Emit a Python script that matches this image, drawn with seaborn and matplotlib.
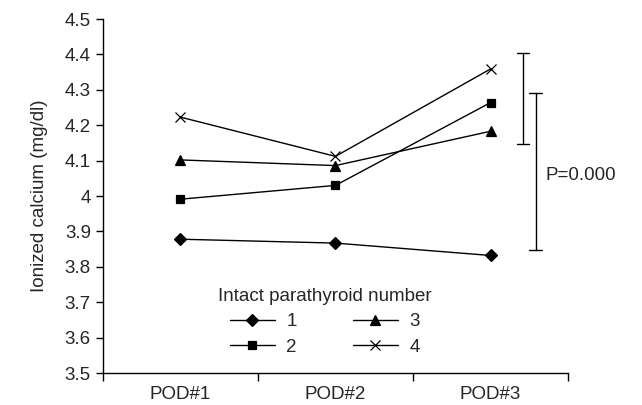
import matplotlib
matplotlib.use("Agg")
import matplotlib.pyplot as plt
import pandas as pd
import seaborn as sns

days = ["POD#1", "POD#2", "POD#3"]
groups = ["1", "2", "3", "4"]
ca_1 = [3.878, 3.867, 3.832]
ca_2 = [3.991, 4.030, 4.264]
ca_3 = [4.102, 4.086, 4.183]
ca_4 = [4.223, 4.112, 4.359]

# the two brackets on the right (low, high)
bracket_a = [4.148, 4.405]
bracket_b = [3.847, 4.290]
p_text = "P=0.000"

sns.set_style("ticks")
plt.rcParams['font.family'] = ['Liberation Sans', 'DejaVu Sans']

fig = plt.figure(figsize=(6.42, 4.05), dpi=100)
ax = fig.add_axes([0.160, 0.079, 0.725, 0.874])

markers = ["D", "s", "^", "x"]
sizes = [6.5, 6, 7, 7]
for g, vals, m, ms in zip(groups, [ca_1, ca_2, ca_3, ca_4], markers, sizes):
    d = pd.DataFrame({"day": days, "ca": vals})
    sns.lineplot(data=d, x="day", y="ca", color="black", marker=m,
                 markersize=ms, linewidth=1, markeredgecolor="black",
                 markeredgewidth=0.9, label=g, ax=ax)

# significance brackets
for xpos, (lo, hi) in [(2.21, bracket_a), (2.29, bracket_b)]:
    ax.plot([xpos, xpos], [lo, hi], color="black", lw=1)
    ax.plot([xpos - 0.04, xpos + 0.04], [lo, lo], color="black", lw=1)
    ax.plot([xpos - 0.04, xpos + 0.04], [hi, hi], color="black", lw=1)
ax.text(2.355, 4.058, p_text, fontsize=13.5, va="center", ha="left")

ax.set_xlim(-0.5, 2.5)
ax.set_ylim(3.5, 4.5)
ax.set_yticks([3.5, 3.6, 3.7, 3.8, 3.9, 4.0, 4.1, 4.2, 4.3, 4.4, 4.5])
ax.set_yticklabels(["3.5", "3.6", "3.7", "3.8", "3.9", "4", "4.1", "4.2",
                    "4.3", "4.4", "4.5"])
ax.set_xticks([0, 1, 2])
ax.set_xticklabels(days)
ax.set_xticks([-0.5, 0.5, 1.5, 2.5], minor=True)
ax.tick_params(axis="x", which="major", length=0, labelsize=13.5, pad=9)
ax.tick_params(axis="x", which="minor", length=6, width=1, color="black")
ax.tick_params(axis="y", length=5, width=1, labelsize=13.5, color="black")
ax.set_xlabel("")
ax.set_ylabel("Ionized calcium (mg/dl)", fontsize=13.5, labelpad=12)
for side in ["top", "right"]:
    ax.spines[side].set_visible(False)
for side in ["left", "bottom"]:
    ax.spines[side].set_linewidth(1)
    ax.spines[side].set_color("black")

handles, labels = ax.get_legend_handles_labels()
leg = ax.legend(handles, labels, title="Intact parathyroid number", ncol=2,
                frameon=False, fontsize=13.5, title_fontsize=13.5,
                loc="center", bbox_to_anchor=(0.477, 0.145),
                handlelength=2.4, handletextpad=0.6, columnspacing=3.0,
                labelspacing=0.45, borderaxespad=0)

fig.savefig("out.png", dpi=100)
